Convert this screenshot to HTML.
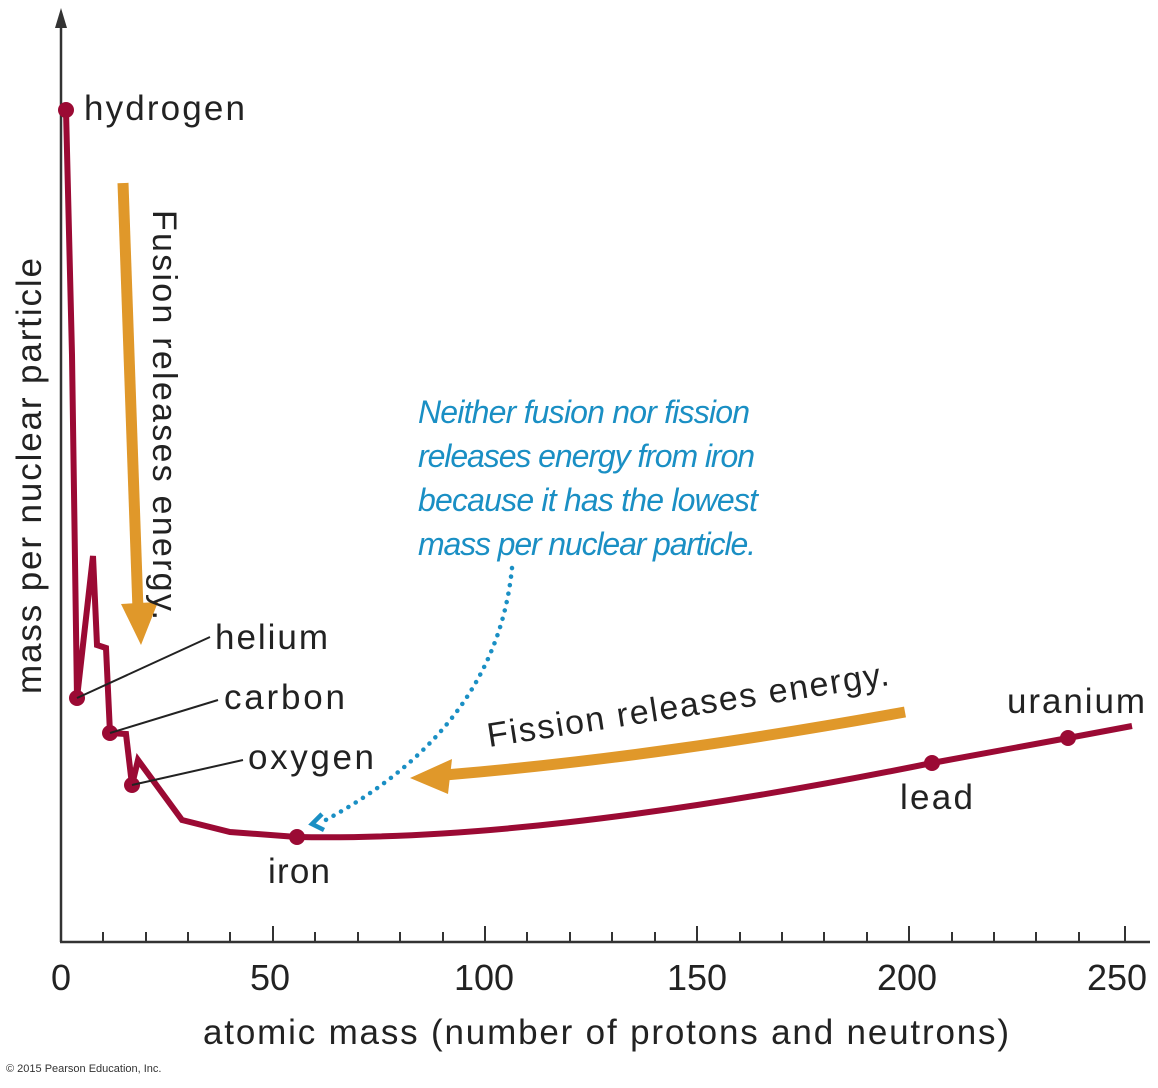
<!DOCTYPE html>
<html><head><meta charset="utf-8"><style>
html,body{margin:0;padding:0;background:#fff;}
svg{display:block;font-family:"Liberation Sans",sans-serif;}
</style></head><body>
<svg width="1158" height="1088" viewBox="0 0 1158 1088" xmlns="http://www.w3.org/2000/svg">
<line x1="61" y1="14" x2="61" y2="942" stroke="#333" stroke-width="2.5"/>
<polygon points="61,8 55,28 67,28" fill="#333"/>
<line x1="60" y1="942" x2="1150" y2="942" stroke="#333" stroke-width="2.5"/>
<g stroke="#333" stroke-width="2">
<line x1="103" y1="932" x2="103" y2="942"/><line x1="146" y1="932" x2="146" y2="942"/><line x1="188" y1="932" x2="188" y2="942"/><line x1="230" y1="932" x2="230" y2="942"/>
<line x1="273" y1="926" x2="273" y2="942"/>
<line x1="315" y1="932" x2="315" y2="942"/><line x1="358" y1="932" x2="358" y2="942"/><line x1="400" y1="932" x2="400" y2="942"/><line x1="443" y1="932" x2="443" y2="942"/>
<line x1="485" y1="926" x2="485" y2="942"/>
<line x1="527" y1="932" x2="527" y2="942"/><line x1="570" y1="932" x2="570" y2="942"/><line x1="612" y1="932" x2="612" y2="942"/><line x1="655" y1="932" x2="655" y2="942"/>
<line x1="697" y1="926" x2="697" y2="942"/>
<line x1="740" y1="932" x2="740" y2="942"/><line x1="782" y1="932" x2="782" y2="942"/><line x1="824" y1="932" x2="824" y2="942"/><line x1="867" y1="932" x2="867" y2="942"/>
<line x1="909" y1="926" x2="909" y2="942"/>
<line x1="952" y1="932" x2="952" y2="942"/><line x1="994" y1="932" x2="994" y2="942"/><line x1="1036" y1="932" x2="1036" y2="942"/><line x1="1079" y1="932" x2="1079" y2="942"/>
<line x1="1125" y1="926" x2="1125" y2="942"/>
</g>
<g font-size="36" fill="#222" text-anchor="middle">
<text x="61" y="990">0</text><text x="270" y="990">50</text><text x="484" y="990">100</text>
<text x="697" y="990">150</text><text x="907" y="990">200</text><text x="1117" y="990">250</text>
</g>
<text x="606" y="1044" font-size="35" fill="#222" text-anchor="middle" textLength="806">atomic mass (number of protons and neutrons)</text>
<text x="6" y="1072" font-size="11" fill="#333">© 2015 Pearson Education, Inc.</text>
<text transform="translate(41,476) rotate(-90)" font-size="35" fill="#222" text-anchor="middle" textLength="436">mass per nuclear particle</text>

<path d="M66,110 L72,355 L77,698 L93,556 L97,645 L106,648 L110,733 L126,734 L132,785 L138,760 L182,820 L230,832 L297,837 C450,840 650,820 932,763 L1068,738 L1132,726" fill="none" stroke="#9b0a34" stroke-width="6" stroke-linejoin="miter"/>
<g fill="#9b0a34">
<circle cx="66" cy="110" r="8"/><circle cx="77" cy="698" r="8"/><circle cx="110" cy="733" r="8"/>
<circle cx="132" cy="785" r="8"/><circle cx="297" cy="837" r="8"/><circle cx="932" cy="763" r="8"/><circle cx="1068" cy="738" r="8"/>
</g>
<g stroke="#222" stroke-width="2">
<line x1="77" y1="698" x2="210" y2="637"/><line x1="110" y1="733" x2="218" y2="700"/><line x1="132" y1="785" x2="243" y2="760"/>
</g>
<g font-size="35" fill="#222">
<text x="84" y="120" textLength="161">hydrogen</text><text x="215" y="649" textLength="113">helium</text><text x="224" y="709" textLength="121">carbon</text>
<text x="248" y="769" textLength="126">oxygen</text><text x="268" y="883" textLength="62">iron</text><text x="900" y="809" textLength="73">lead</text><text x="1007" y="713" textLength="138">uranium</text>
</g>

<path d="M123,183 L138,610" stroke="#e0982a" stroke-width="11" fill="none"/>
<polygon points="121,604 158,602 141,645" fill="#e0982a"/>
<path d="M905,712 C750,740 600,762 445,775" stroke="#e0982a" stroke-width="11" fill="none"/>
<polygon points="410,778 452,759 448,794" fill="#e0982a"/>
<text transform="translate(153,210) rotate(90)" font-size="34" fill="#222" textLength="410">Fusion releases energy.</text>
<text transform="translate(489,747) rotate(-8.8)" font-size="34" fill="#222" textLength="406">Fission releases energy.</text>

<g font-size="32" fill="#1a8fc4" font-style="italic">
<text x="418" y="423" textLength="332">Neither fusion nor fission</text>
<text x="418" y="467" textLength="337">releases energy from iron</text>
<text x="418" y="511" textLength="340">because it has the lowest</text>
<text x="418" y="555" textLength="338">mass per nuclear particle.</text>
</g>
<path d="M512,568 C500,690 420,770 322,822" fill="none" stroke="#1a8fc4" stroke-width="4.5" stroke-dasharray="0.1 8.5" stroke-linecap="round"/>
<polyline points="322,814 312,824 324,830" fill="none" stroke="#1a8fc4" stroke-width="4.5"/>
</svg>
</body></html>
